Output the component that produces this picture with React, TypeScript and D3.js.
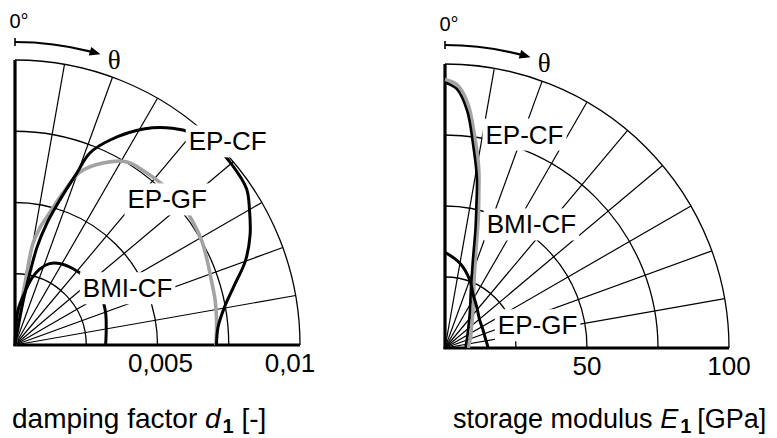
import React, { useEffect, useRef } from 'react';
import * as d3 from 'd3';

const W = 777;
const H = 438;
const FONT = '"Liberation Sans", Arial, Helvetica, sans-serif';

// ---- damping factor d1 [-], θ in degrees (0° = vertical, clockwise) ----
const dTheta_EPCF = [9, 10.5, 11.7, 12.7, 14.7, 17.2, 19.8, 21.3, 24.9, 31, 36, 40, 45, 50, 56, 60, 65, 70, 75, 80, 85, 90];
const d_EPCF = [0, 0.0015, 0.0026, 0.00352, 0.00442, 0.00533, 0.00642, 0.00723, 0.00793, 0.00885, 0.0094, 0.0097, 0.0099, 0.0099, 0.0098, 0.0095, 0.0091, 0.0086, 0.00795, 0.00745, 0.00715, 0.00707];

const dTheta_EPGF = [6, 8.5, 9.3, 10, 12, 14, 17.5, 20.6, 25.8, 31.5, 37, 43, 50, 55, 61, 67, 72, 77, 81, 85, 90];
const d_EPGF = [0, 0.0012, 0.0024, 0.0036, 0.0042, 0.00463, 0.00559, 0.00648, 0.00709, 0.00753, 0.0076, 0.00765, 0.00765, 0.0076, 0.0075, 0.00735, 0.00725, 0.0072, 0.00715, 0.0071, 0.00705];

const dTheta_BMICF = [3, 5, 10.7, 14, 18, 23, 28.8, 37, 45, 53, 61, 70, 80, 90];
const d_BMICF = [0, 0.00123, 0.0019, 0.0024, 0.0028, 0.0031, 0.00326, 0.00336, 0.00342, 0.00346, 0.00347, 0.00338, 0.00325, 0.00318];

// ---- storage modulus E1 [GPa] ----
const eTheta_EPCF = [0, 2.6, 5.3, 7.8, 10.6, 12.5, 14.3, 17.6, 24, 30, 35.5, 45, 55, 65, 75, 82, 90];
const e_EPCF = [93.5, 91.3, 84, 72.6, 61, 51, 43.5, 32.5, 22.4, 17.8, 15, 11.8, 9.8, 8.6, 7.8, 7.4, 7.3];
const e_BMICF = [94.5, 92.8, 86.5, 76, 64.5, 55, 47.5, 36, 25, 20, 17, 13.5, 11.3, 10, 9, 8.5, 8.2];

const eTheta_EPGF = [0, 10, 20, 27, 38, 51, 65, 75, 89, 90];
const e_EPGF = [33.7, 30.3, 25.5, 21.6, 18.2, 15.7, 14.8, 14.6, 15.1, 15.1];

const gridAngles = [10, 20, 30, 40, 50, 60, 70, 80];

type Series = { theta: number[]; values: number[]; color: string; width: number };
type Label = { text: string; theta: number; value: number };
type Chart = {
  ox: number;
  oy: number;
  radius: number;
  max: number;
  rings: number[];
  ticks: number[];
  tickText: string[];
  tickDx: number[];
  series: Series[];
  labels: Label[];
};

const damping: Chart = {
  ox: 15,
  oy: 345,
  radius: 285,
  max: 0.01,
  rings: [0.0025, 0.005, 0.0075, 0.01],
  ticks: [0.005, 0.01],
  tickText: ['0,005', '0,01'],
  tickDx: [3, -10],
  series: [
    { theta: dTheta_EPGF, values: d_EPGF, color: '#a3a3a3', width: 3.6 },
    { theta: dTheta_EPCF, values: d_EPCF, color: '#000', width: 3 },
    { theta: dTheta_BMICF, values: d_BMICF, color: '#000', width: 3 },
  ],
  labels: [
    { text: 'EP-CF', theta: 46.2, value: 0.01034 },
    { text: 'EP-GF', theta: 46.2, value: 0.0074 },
    { text: 'BMI-CF', theta: 63.1, value: 0.00443 },
  ],
};

const modulus: Chart = {
  ox: 445,
  oy: 348,
  radius: 284,
  max: 100,
  rings: [25, 50, 75, 100],
  ticks: [50, 100],
  tickText: ['50', '100'],
  tickDx: [0, 0],
  series: [
    { theta: eTheta_EPCF, values: e_BMICF, color: '#a3a3a3', width: 3.6 },
    { theta: eTheta_EPCF, values: e_EPCF, color: '#000', width: 2.6 },
    { theta: eTheta_EPGF, values: e_EPGF, color: '#000', width: 3 },
  ],
  labels: [
    { text: 'EP-CF', theta: 20.4, value: 80.3 },
    { text: 'BMI-CF', theta: 34.9, value: 53.2 },
    { text: 'EP-GF', theta: 76, value: 33.6 },
  ],
};

const rad = (deg: number) => (deg * Math.PI) / 180;

function drawPolar(root: d3.Selection<SVGGElement, unknown, null, undefined>, c: Chart) {
  const g = root.append('g').attr('transform', `translate(${c.ox},${c.oy})`);
  const r = d3.scaleLinear().domain([0, c.max]).range([0, c.radius]);
  const pt = (deg: number, v: number) => [r(v) * Math.sin(rad(deg)), -r(v) * Math.cos(rad(deg))];

  // rings
  c.rings.forEach((v) => {
    const p = d3.path();
    p.moveTo(0, -r(v));
    p.arc(0, 0, r(v), -Math.PI / 2, 0);
    g.append('path').attr('d', p.toString()).attr('fill', 'none').attr('stroke', '#000').attr('stroke-width', 1.3);
  });

  // spokes
  gridAngles.forEach((a) => {
    const [x, y] = pt(a, c.max);
    g.append('line').attr('x1', 0).attr('y1', 0).attr('x2', x).attr('y2', y).attr('stroke', '#000').attr('stroke-width', 1.2);
  });

  // axes (0° and 90°)
  g.append('line').attr('x1', 0).attr('y1', 1).attr('x2', 0).attr('y2', -r(c.max)).attr('stroke', '#000').attr('stroke-width', 3.2);
  g.append('line').attr('x1', -1.5).attr('y1', 0).attr('x2', r(c.max)).attr('y2', 0).attr('stroke', '#000').attr('stroke-width', 3.2);

  // curves
  const line = d3
    .lineRadial<[number, number]>()
    .angle((d) => rad(d[0]))
    .radius((d) => r(d[1]))
    .curve(d3.curveCatmullRom.alpha(0.5));
  c.series.forEach((s) => {
    const pts = s.theta.map((t, i) => [t, s.values[i]] as [number, number]);
    g.append('path')
      .attr('d', line(pts) as string)
      .attr('fill', 'none')
      .attr('stroke', s.color)
      .attr('stroke-width', s.width)
      .attr('stroke-linejoin', 'round');
  });

  // curve labels with white boxes
  c.labels.forEach((l) => {
    const [x, y] = pt(l.theta, l.value);
    const t = g
      .append('text')
      .attr('x', x)
      .attr('y', y)
      .attr('dy', '0.36em')
      .attr('text-anchor', 'middle')
      .attr('font-family', FONT)
      .attr('font-size', 26)
      .text(l.text);
    const b = (t.node() as SVGTextElement).getBBox();
    g.insert('rect', () => t.node())
      .attr('x', b.x - 3)
      .attr('y', b.y - 1)
      .attr('width', b.width + 6)
      .attr('height', b.height + 2)
      .attr('fill', '#fff');
  });

  // tick labels under the 90° axis
  c.ticks.forEach((v, i) => {
    g.append('text')
      .attr('x', r(v) + c.tickDx[i])
      .attr('y', 27)
      .attr('text-anchor', 'middle')
      .attr('font-family', FONT)
      .attr('font-size', 26)
      .text(c.tickText[i]);
  });

  // 0° marker and θ arrow
  g.append('text')
    .attr('x', 4)
    .attr('y', -317)
    .attr('text-anchor', 'middle')
    .attr('font-family', FONT)
    .attr('font-size', 20)
    .text('0°');
  const R = 303;
  g.append('line').attr('x1', 0).attr('x2', 0).attr('y1', -R - 4).attr('y2', -R + 4).attr('stroke', '#000').attr('stroke-width', 1.6);
  const ap = d3.path();
  ap.moveTo(0, -R);
  ap.arc(0, 0, R, -Math.PI / 2, -Math.PI / 2 + rad(14.5));
  g.append('path').attr('d', ap.toString()).attr('fill', 'none').attr('stroke', '#000').attr('stroke-width', 2.2);
  const tipA = rad(16.4);
  const tip = [R * Math.sin(tipA), -R * Math.cos(tipA)];
  const dir = [Math.cos(tipA), Math.sin(tipA)];
  const nrm = [-dir[1], dir[0]];
  const L = 11;
  const Wd = 4.5;
  g.append('path')
    .attr(
      'd',
      `M${tip[0]},${tip[1]}L${tip[0] - dir[0] * L + nrm[0] * Wd},${tip[1] - dir[1] * L + nrm[1] * Wd}L${tip[0] - dir[0] * L - nrm[0] * Wd},${tip[1] - dir[1] * L - nrm[1] * Wd}Z`
    )
    .attr('fill', '#000');
  const th = [302 * Math.sin(rad(19.2)), -302 * Math.cos(rad(19.2))];
  g.append('text')
    .attr('x', th[0])
    .attr('y', th[1])
    .attr('dy', '0.35em')
    .attr('text-anchor', 'middle')
    .attr('font-family', '"Liberation Serif", "Times New Roman", serif')
    .attr('font-size', 27)
    .text('θ');
}

export default function App() {
  const ref = useRef<SVGGElement>(null);

  useEffect(() => {
    const root = d3.select(ref.current as SVGGElement);
    root.selectAll('*').remove();
    drawPolar(root, damping);
    drawPolar(root, modulus);
  }, []);

  return (
    <svg
      width={W}
      height={H}
      viewBox={`0 0 ${W} ${H}`}
      style={{ position: 'absolute', left: 0, top: 0, background: '#fff' }}
    >
      <g ref={ref} />
      <text x={12} y={428} fontFamily={FONT} fontSize={28}>
        damping factor <tspan fontStyle="italic">d</tspan>
        <tspan fontSize={20} fontWeight="bold" dy={5} dx={2}>
          1
        </tspan>
        <tspan dy={-5}> [-]</tspan>
      </text>
      <text x={453} y={428} fontFamily={FONT} fontSize={27}>
        storage modulus <tspan fontStyle="italic">E</tspan>
        <tspan fontSize={20} fontWeight="bold" dy={5} dx={2}>
          1
        </tspan>
        <tspan dy={-5} dx={6}>
          [GPa]
        </tspan>
      </text>
    </svg>
  );
}
